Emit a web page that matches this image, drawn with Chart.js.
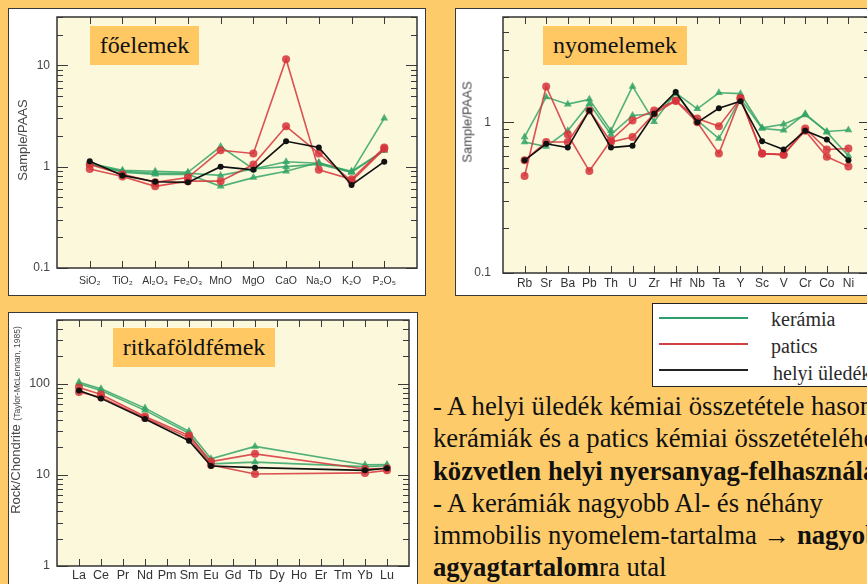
<!DOCTYPE html>
<html>
<head>
<meta charset="utf-8">
<script src="https://cdn.jsdelivr.net/npm/chart.js@4.4.1/dist/chart.umd.min.js"></script>
<style>
  html, body { margin: 0; padding: 0; }
  body {
    width: 867px; height: 584px; overflow: hidden; position: relative;
    background: #FECB6A;
    font-family: "Liberation Serif", "Times New Roman", serif;
  }
  .panel { position: absolute; background: #fff; border: 1.5px solid #3a3a3a; box-sizing: border-box; }
  canvas { position: absolute; }
  .tag {
    position: absolute; background: #FFC863; color: #111;
    font: 24px "Liberation Serif", "Times New Roman", serif;
    display: flex; align-items: center; justify-content: center;
  }
  .ytitle {
    position: absolute; white-space: nowrap; color: #474747;
    font: 13px "Liberation Sans", Arial, sans-serif;
    transform: translate(-50%, -50%) rotate(-90deg);
  }
  .ytitle small { font-size: 8.5px; }
  .legend {
    position: absolute; left: 652px; top: 303px; width: 240px; height: 84px;
    background: #fff; border: 1px solid #222; box-sizing: border-box;
  }
  .legend .ln { position: absolute; left: 6px; width: 89px; height: 2.5px; }
  .legend .lt {
    position: absolute; left: 118px; font: 20px "Liberation Serif", "Times New Roman", serif;
    color: #2a2a2a; line-height: 20px; white-space: nowrap;
  }
  .notes {
    position: absolute; left: 433px; top: 390px; color: #111;
    font: 26.7px "Liberation Serif", "Times New Roman", serif;
    line-height: 32.3px; white-space: nowrap;
  }
</style>
</head>
<body>

<div class="panel" style="left:8px;top:8px;width:418px;height:288px;"></div>
<div class="panel" style="left:455px;top:8px;width:440px;height:288px;"></div>
<div class="panel" style="left:8px;top:312px;width:410px;height:300px;"></div>

<canvas id="major" width="418" height="288" style="left:8px;top:8px;width:418px;height:288px;"></canvas>
<canvas id="trace" width="420" height="288" style="left:455px;top:8px;width:420px;height:288px;"></canvas>
<canvas id="ree" width="410" height="280" style="left:8px;top:312px;width:410px;height:280px;"></canvas>

<div class="ytitle" style="left:22px;top:140px;">Sample/PAAS</div>
<div class="ytitle" style="left:467px;top:122px;">Sample/PAAS</div>
<div class="ytitle" style="left:15px;top:420px;">Rock/Chondrite <small>(Taylor-McLennan, 1985)</small></div>

<div class="tag" style="left:90px;top:26px;width:109px;height:39px;">főelemek</div>
<div class="tag" style="left:543px;top:26px;width:144px;height:39px;">nyomelemek</div>
<div class="tag" style="left:113px;top:328px;width:162px;height:39px;">ritkaföldfémek</div>

<div class="legend">
  <div class="ln" style="top:12.5px;background:#2E9E6A;"></div>
  <div class="lt" style="top:5px;">kerámia</div>
  <div class="ln" style="top:38.5px;background:#D04040;"></div>
  <div class="lt" style="top:32px;">patics</div>
  <div class="ln" style="top:64.5px;background:#222;"></div>
  <div class="lt" style="top:59px;left:120px;">helyi üledék</div>
</div>

<div class="notes">
  <div>- A helyi üledék kémiai összetétele hasonló a</div>
  <div>kerámiák és a patics kémiai összetételéhez →</div>
  <div><b>közvetlen helyi nyersanyag-felhasználás</b></div>
  <div>- A kerámiák nagyobb Al- és néhány</div>
  <div>immobilis nyomelem-tartalma → <b>nagyobb</b></div>
  <div><b>agyagtartalom</b>ra utal</div>
</div>

<script>
// ---- Major elements, normalised to PAAS ----
const majorCats = ['SiO₂', 'TiO₂', 'Al₂O₃', 'Fe₂O₃', 'MnO', 'MgO', 'CaO', 'Na₂O', 'K₂O', 'P₂O₅'];
const majorKeramia1 = [1.08, 0.92, 0.90, 0.88, 1.58, 0.95, 1.00, 1.06, 0.88, 3.00];
const majorKeramia2 = [1.06, 0.90, 0.86, 0.86, 0.82, 0.95, 1.12, 1.08, 0.90, 1.45];
const majorKeramia3 = [1.07, 0.88, 0.84, 0.84, 0.64, 0.78, 0.90, 1.10, 0.88, 1.45];
const majorPatics1  = [1.05, 0.84, 0.70, 0.78, 1.45, 1.35, 11.5, 0.93, 0.75, 1.55];
const majorPatics2  = [0.95, 0.80, 0.64, 0.72, 0.72, 1.05, 2.50, 1.35, 0.72, 1.50];
const majorHelyi    = [1.13, 0.82, 0.71, 0.70, 1.00, 0.93, 1.78, 1.55, 0.66, 1.12];
const majorYTicks = [0.1, 1, 10];

// ---- Trace elements, normalised to PAAS ----
const traceCats = ['Rb', 'Sr', 'Ba', 'Pb', 'Th', 'U', 'Zr', 'Hf', 'Nb', 'Ta', 'Y', 'Sc', 'V', 'Cr', 'Co', 'Ni'];
const traceKeramia1 = [0.80, 1.47, 1.32, 1.42, 0.88, 1.73, 1.01, 1.57, 1.23, 1.57, 1.55, 0.92, 0.97, 1.12, 0.87, 0.89];
const traceKeramia2 = [0.74, 0.69, 0.88, 1.33, 0.83, 1.11, 1.14, 1.55, 1.03, 0.78, 1.44, 0.91, 0.885, 1.14, 0.86, 0.60];
const tracePatics1  = [0.44, 1.73, 0.83, 0.475, 0.76, 1.03, 1.20, 1.39, 1.06, 0.94, 1.44, 0.62, 0.61, 0.91, 0.66, 0.67];
const tracePatics2  = [0.56, 0.74, 0.74, 1.20, 0.74, 0.80, 1.14, 1.39, 1.00, 0.62, 1.45, 0.62, 0.61, 0.88, 0.59, 0.51];
const traceHelyi    = [0.56, 0.72, 0.68, 1.20, 0.68, 0.70, 1.14, 1.59, 1.00, 1.24, 1.38, 0.75, 0.66, 0.88, 0.77, 0.56];
const traceYTicks = [0.1, 1];

// ---- Rare earth elements, normalised to chondrite ----
const reeCats = ['La', 'Ce', 'Pr', 'Nd', 'Pm', 'Sm', 'Eu', 'Gd', 'Tb', 'Dy', 'Ho', 'Er', 'Tm', 'Yb', 'Lu'];
const reeKeramia1 = [104, 88, null, 54, null, 30, 15.0, null, 20.5, null, null, null, null, 12.9, 13.0];
const reeKeramia2 = [100, 84, null, 51, null, 28.5, 13.2, null, 13.8, null, null, null, null, 12.3, 12.6];
const reePatics1  = [91, 76, null, 43.6, null, 27, 14.0, null, 17.0, null, null, null, null, 11.6, 11.8];
const reePatics2  = [81, 71, null, 42, null, 25.5, 12.8, null, 10.2, null, null, null, null, 10.5, 11.2];
const reeHelyi    = [84, 69, null, 41, null, 23.7, 12.5, null, 12.0, null, null, null, null, 11.2, 11.8];
const reeYTicks = [1, 10, 100];

const GREEN = 'rgba(52,165,102,0.85)';
const RED = 'rgba(214,52,58,0.85)';
const BLACK = '#111111';
const PLOT_BG = '#FBF8DC';
const SANS = '"Liberation Sans", Arial, sans-serif';

// cream plot background, inward tick marks on all four sides, and the frame
const plotFrame = {
  id: 'plotFrame',
  beforeDraw(chart) {
    const { ctx, chartArea: a } = chart;
    ctx.save();
    ctx.fillStyle = PLOT_BG;
    ctx.fillRect(a.left, a.top, a.right - a.left, a.bottom - a.top);
    ctx.restore();
  },
  beforeDatasetsDraw(chart) {
    const { ctx, chartArea: a, scales: { x, y } } = chart;
    ctx.save();
    ctx.strokeStyle = '#3a3a3a';
    ctx.lineWidth = 1;
    ctx.beginPath();
    x.ticks.forEach(t => {
      const px = Math.round(x.getPixelForValue(t.value)) + 0.5;
      ctx.moveTo(px, a.bottom); ctx.lineTo(px, a.bottom - 7);
      ctx.moveTo(px, a.top); ctx.lineTo(px, a.top + 7);
    });
    const lo = Math.floor(Math.log10(y.min)), hi = Math.ceil(Math.log10(y.max));
    for (let e = lo; e <= hi; e++) {
      for (let m = 1; m <= 9; m++) {
        const v = m * Math.pow(10, e);
        if (v < y.min * 0.999 || v > y.max * 1.001) continue;
        const py = Math.round(y.getPixelForValue(v)) + 0.5;
        const len = m === 1 ? 11 : 6;
        ctx.moveTo(a.left, py); ctx.lineTo(a.left + len, py);
        ctx.moveTo(a.right, py); ctx.lineTo(a.right - len, py);
      }
    }
    ctx.stroke();
    ctx.strokeStyle = '#333';
    ctx.lineWidth = 1.5;
    ctx.strokeRect(a.left, a.top, a.right - a.left, a.bottom - a.top);
    ctx.restore();
  }
};

function points(values) {
  return values.map((v, i) => ({ x: i, y: v })).filter(p => p.y !== null);
}

function series(label, values, kind) {
  const styles = {
    keramia: { color: GREEN, pointStyle: 'triangle', radius: 4.5 },
    patics: { color: RED, pointStyle: 'circle', radius: 4 },
    helyi: { color: BLACK, pointStyle: 'circle', radius: 3 }
  };
  const s = styles[kind];
  return {
    label, data: points(values),
    borderColor: s.color, backgroundColor: s.color,
    borderWidth: 1.6, pointStyle: s.pointStyle, pointRadius: s.radius,
    pointBorderWidth: 0, tension: 0
  };
}

function makeChart(id, cfg) {
  return new Chart(document.getElementById(id), {
    type: 'line',
    data: { datasets: cfg.datasets },
    options: {
      responsive: false, animation: false, events: [], devicePixelRatio: 1,
      layout: { padding: cfg.padding },
      plugins: { legend: { display: false }, tooltip: { enabled: false } },
      scales: {
        x: {
          type: 'linear', min: -1, max: cfg.cats.length,
          afterBuildTicks: s => { s.ticks = cfg.cats.map((_, i) => ({ value: i })); },
          afterFit: s => { s.height = cfg.xHeight; s.paddingLeft = 0; s.paddingRight = 0; },
          grid: { display: false, drawTicks: false }, border: { display: false },
          ticks: {
            autoSkip: false, maxRotation: 0, minRotation: 0,
            padding: cfg.xPad, color: '#333',
            font: { family: SANS, size: cfg.xFont },
            callback: v => cfg.cats[v]
          }
        },
        y: {
          type: 'logarithmic', min: cfg.yMin, max: cfg.yMax,
          afterBuildTicks: s => { s.ticks = cfg.yTicks.map(v => ({ value: v })); },
          afterFit: s => { s.width = cfg.yWidth; s.paddingTop = 0; s.paddingBottom = 0; },
          grid: { display: false, drawTicks: false }, border: { display: false },
          ticks: {
            padding: cfg.yPad, color: '#444',
            font: { family: SANS, size: cfg.yFont },
            callback: v => String(v)
          }
        }
      }
    },
    plugins: [plotFrame]
  });
}

makeChart('major', {
  cats: majorCats, yMin: 0.1, yMax: 30, yTicks: majorYTicks,
  padding: { left: 0, top: 9, right: 9, bottom: 0 },
  xHeight: 28, yWidth: 49, xPad: 7, yPad: 7, xFont: 10.5, yFont: 12,
  datasets: [
    series('helyi üledék', majorHelyi, 'helyi'),
    series('patics 1', majorPatics1, 'patics'),
    series('patics 2', majorPatics2, 'patics'),
    series('kerámia 1', majorKeramia1, 'keramia'),
    series('kerámia 2', majorKeramia2, 'keramia'),
    series('kerámia 3', majorKeramia3, 'keramia')
  ]
});

makeChart('trace', {
  cats: traceCats, yMin: 0.1, yMax: 5, yTicks: traceYTicks,
  padding: { left: 0, top: 9, right: 5, bottom: 0 },
  xHeight: 23, yWidth: 48, xPad: 3, yPad: 12, xFont: 12, yFont: 12,
  datasets: [
    series('helyi üledék', traceHelyi, 'helyi'),
    series('patics 1', tracePatics1, 'patics'),
    series('patics 2', tracePatics2, 'patics'),
    series('kerámia 1', traceKeramia1, 'keramia'),
    series('kerámia 2', traceKeramia2, 'keramia')
  ]
});

makeChart('ree', {
  cats: reeCats, yMin: 1, yMax: 500, yTicks: reeYTicks,
  padding: { left: 0, top: 8, right: 9, bottom: 0 },
  xHeight: 26, yWidth: 49, xPad: 2.5, yPad: 7, xFont: 12.5, yFont: 12.5,
  datasets: [
    series('helyi üledék', reeHelyi, 'helyi'),
    series('patics 1', reePatics1, 'patics'),
    series('patics 2', reePatics2, 'patics'),
    series('kerámia 1', reeKeramia1, 'keramia'),
    series('kerámia 2', reeKeramia2, 'keramia')
  ]
});
</script>
</body>
</html>
